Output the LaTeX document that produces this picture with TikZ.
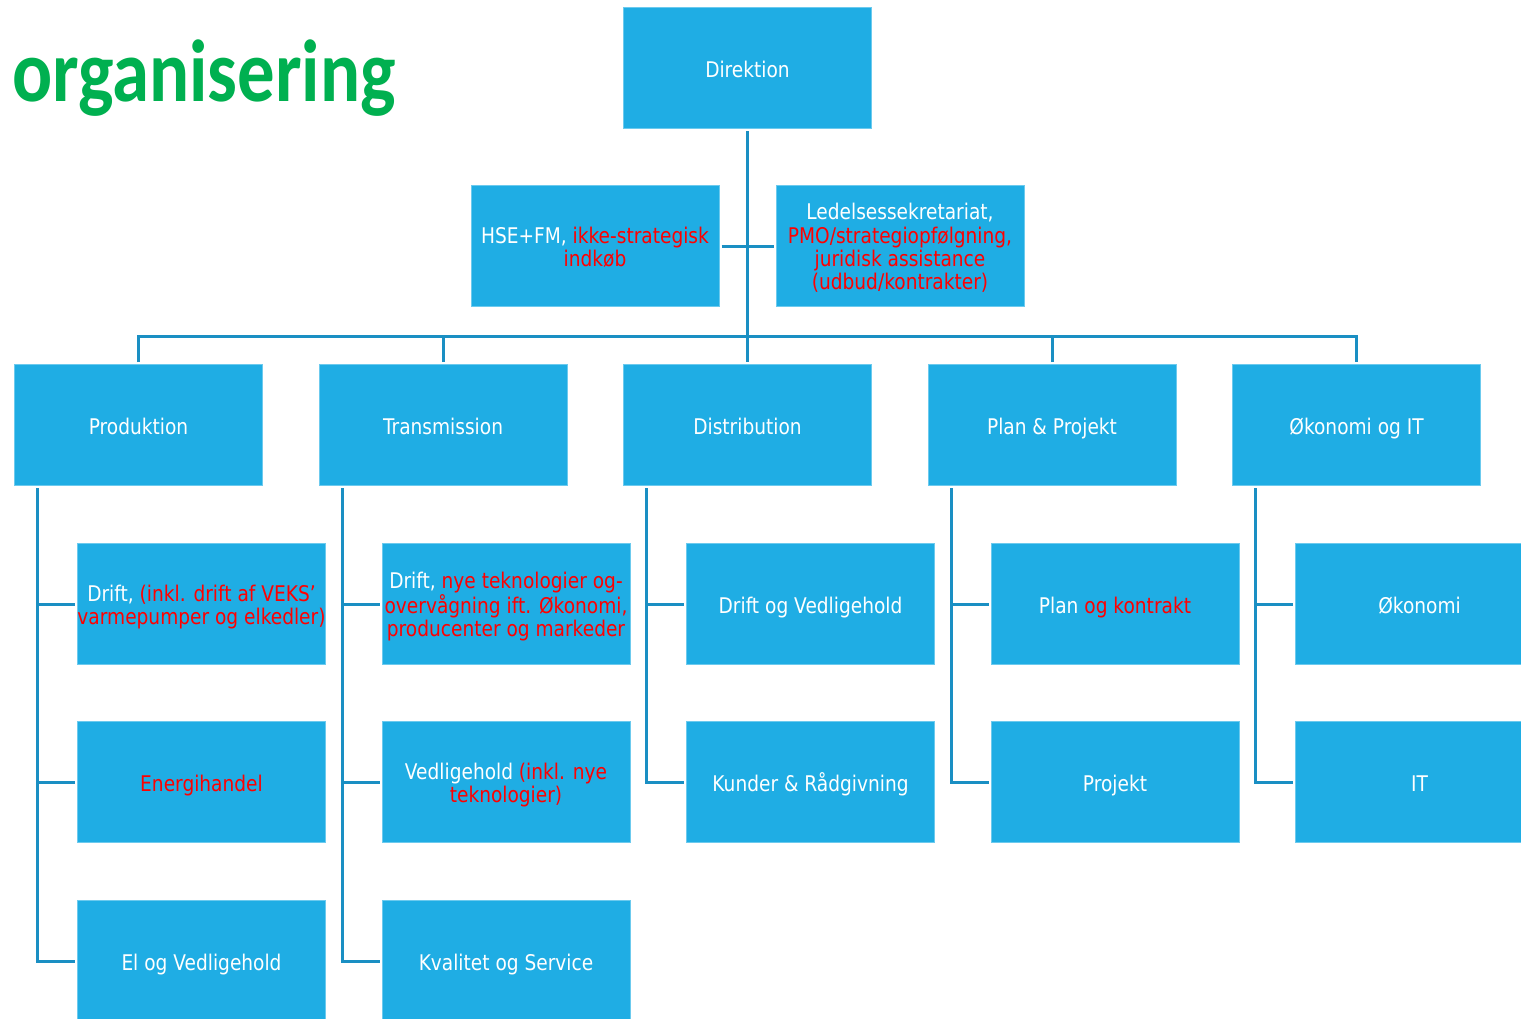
\documentclass[tikz,border=0pt]{standalone}
\usepackage{fontspec}
\setmainfont{DejaVu Sans}[FakeStretch=0.86]
\newfontfamily\titlefont{Carlito}[FakeStretch=0.85]
\usetikzlibrary{calc}
\definecolor{boxfill}{HTML}{1FADE4}
\definecolor{boxedge}{HTML}{6CCAEE}
\definecolor{linec}{HTML}{1A8FC3}
\definecolor{titlegreen}{HTML}{00B050}
\definecolor{rd}{HTML}{FF0000}
\newcommand{\rt}[1]{\textcolor{rd}{#1}}
\newcommand{\bstrut}{\rule[-5pt]{0pt}{29.2pt}}
\tikzset{
  boxtext/.style={text=white, align=center, font=\fontsize{21.6}{23.3}\selectfont,
    execute at begin node=\bstrut, execute at end node=\bstrut},
  orgbox/.style={rectangle, fill=boxfill, draw=boxedge, line width=0.8pt,
    minimum width=248pt, minimum height=121pt, inner sep=0pt, outer sep=2.5pt,
    boxtext},
  mltext/.style={boxtext, inner sep=0pt, yshift=-3pt},
  conn/.style={draw=linec, line width=3pt},
}
\begin{document}
\begin{tikzpicture}[x=1pt,y=-1pt]
\clip (0,0) rectangle (1521,1018);
\fill[white] (0,0) rectangle (1521,1018);
\node[anchor=base west, text=titlegreen, inner sep=0pt,
  font=\titlefont\bfseries\fontsize{88}{90}\selectfont] (title) at (12,101) {organisering};
% level 1
\node[orgbox] (dir) at (747.5,68) {Direktion};
\node[orgbox] (hse) at (595,246) {};
\node[mltext] (hseT) at (hse.center) {HSE+FM, \rt{ikke-strategisk}\\\rt{indkøb}};
\node[orgbox] (led) at (900,246) {};
\node[mltext] (ledT) at (led.center) {Ledelsessekretariat,\\\rt{PMO/strategiopfølgning,}\\\rt{juridisk assistance}\\\rt{(udbud/kontrakter)}};
% level 2
\node[orgbox] (prod) at (138.5,425) {Produktion};
\node[orgbox] (trans) at (443,425) {Transmission};
\node[orgbox] (dist) at (747.5,425) {Distribution};
\node[orgbox] (plan) at (1052,425) {Plan \& Projekt};
\node[orgbox] (okit) at (1356.5,425) {Økonomi og IT};
% level 3
\node[orgbox] (p1) at (201.5,604) {};
\node[mltext] (p1T) at (p1.center) {Drift, \rt{(inkl. drift af VEKS’}\\\rt{varmepumper og elkedler)}};
\node[orgbox] (p2) at (201.5,782) {\rt{Energihandel}};
\node[orgbox] (p3) at (201.5,961) {El og Vedligehold};
\node[orgbox] (t1) at (506,604) {};
\node[mltext] (t1T) at (t1.center) {Drift, \rt{nye teknologier og-}\\\rt{overvågning ift. Økonomi,}\\\rt{producenter og markeder}};
\node[orgbox] (t2) at (506,782) {};
\node[mltext] (t2T) at (t2.center) {Vedligehold \rt{(inkl. nye}\\\rt{teknologier)}};
\node[orgbox] (t3) at (506,961) {Kvalitet og Service};
\node[orgbox] (d1) at (810.5,604) {Drift og Vedligehold};
\node[orgbox] (d2) at (810.5,782) {Kunder \& Rådgivning};
\node[orgbox] (l1) at (1115,604) {Plan \rt{og kontrakt}};
\node[orgbox] (l2) at (1115,782) {Projekt};
\node[orgbox] (o1) at (1419.5,604) {Økonomi};
\node[orgbox] (o2) at (1419.5,782) {IT};
% connectors level 1-2
\coordinate (bus) at (0,336);
\draw[conn] (dir.south) -- (dist.north);
\draw[conn] (hse.east) -- (led.west);
\draw[conn] (prod.north) -- (prod.north |- bus) -- (okit.north |- bus) -- (okit.north);
\draw[conn] (trans.north) -- (trans.north |- bus);
\draw[conn] (plan.north) -- (plan.north |- bus);
% connectors level 2-3
\coordinate (pv) at ($(prod.south west)+(25.5,0)$);
\coordinate (tv) at ($(trans.south west)+(25.5,0)$);
\coordinate (dv) at ($(dist.south west)+(25.5,0)$);
\coordinate (lv) at ($(plan.south west)+(25.5,0)$);
\coordinate (ov) at ($(okit.south west)+(25.5,0)$);
\draw[conn] (pv) |- (p1.west);
\draw[conn] (pv) |- (p2.west);
\draw[conn] (pv) |- (p3.west);
\draw[conn] (tv) |- (t1.west);
\draw[conn] (tv) |- (t2.west);
\draw[conn] (tv) |- (t3.west);
\draw[conn] (dv) |- (d1.west);
\draw[conn] (dv) |- (d2.west);
\draw[conn] (lv) |- (l1.west);
\draw[conn] (lv) |- (l2.west);
\draw[conn] (ov) |- (o1.west);
\draw[conn] (ov) |- (o2.west);
\end{tikzpicture}
\end{document}
